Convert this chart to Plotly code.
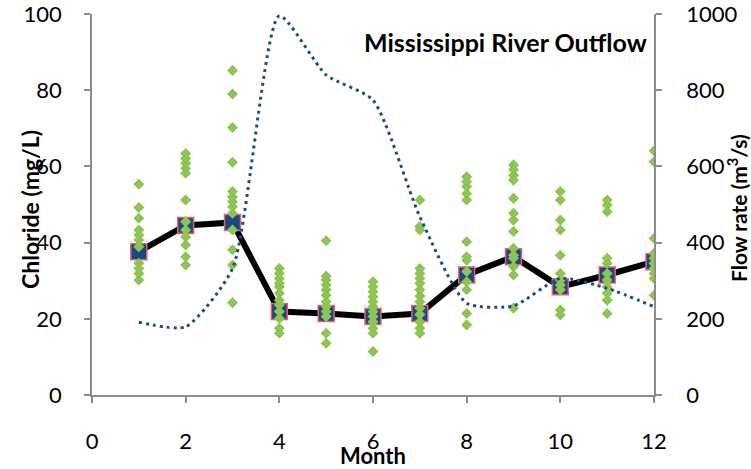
import plotly.graph_objects as go

months = list(range(1, 13))

chloride_samples = {
    1: [55.3, 49.2, 46.4, 43.3, 42.0, 40.7, 38.9, 34.6, 33.2, 31.9, 30.2],
    2: [63.4, 62.1, 60.8, 59.5, 58.2, 51.2, 45.5, 43.3, 41.5, 39.4, 36.3, 34.1],
    3: [85.2, 79.0, 70.2, 61.1, 53.4, 52.0, 50.7, 49.4, 47.7, 43.3, 38.1, 34.1, 24.2],
    4: [33.2, 31.9, 30.6, 29.3, 28.4, 26.7, 24.9, 23.6, 21.9, 20.1, 17.5, 16.2],
    5: [40.5, 31.2, 30.2, 28.9, 27.6, 26.2, 24.5, 23.2, 21.9, 20.6, 16.2, 13.6],
    6: [29.7, 28.4, 27.1, 25.8, 24.5, 23.2, 21.9, 20.6, 19.2, 17.5, 16.2, 11.4],
    7: [51.2, 44.2, 43.3, 33.2, 31.9, 30.6, 29.3, 27.6, 26.0, 24.5, 22.8, 21.1, 19.2, 17.5, 16.2],
    8: [57.3, 56.0, 54.7, 52.9, 51.2, 40.2, 36.3, 35.4, 32.4, 29.7, 27.6, 21.4, 18.4],
    9: [60.4, 59.1, 57.7, 56.4, 51.6, 47.7, 45.9, 42.9, 38.5, 36.7, 35.9, 33.7, 31.5, 22.8],
    10: [53.4, 51.2, 45.9, 43.3, 36.7, 31.9, 30.2, 28.9, 27.6, 22.3, 21.0],
    11: [51.2, 49.9, 48.1, 35.9, 34.6, 31.9, 30.2, 28.4, 26.7, 24.9, 21.4],
    12: [64.1, 61.2, 41.1, 37.2, 35.9, 34.6, 33.2, 31.9, 30.6, 26.2],
}

chloride_mean = [37.6, 44.5, 45.3, 21.9, 21.4, 20.6, 21.4, 31.5, 36.3, 28.4, 31.5, 35.0]
flow_rate = [191, 179, 332, 995, 840, 774, 468, 241, 234, 306, 280, 232]

x_ticks = [0, 2, 4, 6, 8, 10, 12]
y_ticks = [0, 20, 40, 60, 80, 100]
y2_ticks = [0, 200, 400, 600, 800, 1000]

sample_x = [m for m in months for _ in chloride_samples[m]]
sample_y = [v for m in months for v in chloride_samples[m]]

FONT = "Lato"
AXIS_COLOR = "#8c8c8c"

W, H = 751, 469
L, R, T, B = 92, 97, 14, 74
PW, PH = W - L - R, H - T - B


def px(xp):
    return (xp - L) / PW


def py(yp):
    return (H - B - yp) / PH


fig = go.Figure()

fig.add_trace(go.Scatter(
    x=months, y=chloride_mean, mode="lines+markers",
    line=dict(color="black", width=6),
    marker=dict(symbol="square", size=16, color="#174b80",
                line=dict(color="#e8606e", width=1.5)),
    showlegend=False, hoverinfo="skip",
))

fig.add_trace(go.Scatter(
    x=sample_x, y=sample_y, mode="markers",
    marker=dict(symbol="diamond", size=8.5, color="#8fc454"),
    showlegend=False,
))

fig.add_trace(go.Scatter(
    x=months, y=flow_rate, mode="lines", yaxis="y2",
    line=dict(color="#1a4f86", width=3, dash="3px,4px", shape="spline", smoothing=0.6),
    showlegend=False,
))

axis_common = dict(
    showline=True, linecolor=AXIS_COLOR, linewidth=1.5,
    ticks="outside", ticklen=6, tickcolor=AXIS_COLOR, tickwidth=1.5,
    showgrid=False, zeroline=False, automargin=False, ticklabeloverflow="allow",
    tickfont=dict(family=FONT, size=22, color="black"),
)

fig.update_layout(
    width=W, height=H,
    margin=dict(l=L, r=R, t=T, b=B),
    paper_bgcolor="white", plot_bgcolor="white",
    font=dict(family=FONT, color="black"),
    xaxis=dict(range=[0, 12], tickvals=x_ticks, ticklabelstandoff=20, **axis_common),
    yaxis=dict(range=[0, 100], tickvals=y_ticks, ticklabelstandoff=18, **axis_common),
    yaxis2=dict(range=[0, 1000], tickvals=y2_ticks, overlaying="y", side="right",
                ticklabelstandoff=20, **axis_common),
    annotations=[
        dict(text="<b>Mississippi River Outflow</b>", x=px(649), y=py(42),
             xref="paper", yref="paper", xanchor="right", yanchor="middle",
             showarrow=False, font=dict(family=FONT, size=25, color="black")),
        dict(text="<b>Month</b>", x=px(373), y=py(455), xref="paper", yref="paper",
             xanchor="center", yanchor="middle",
             showarrow=False, font=dict(family=FONT, size=22, color="black")),
        dict(text="<b>Chloride (mg/L)</b>", x=px(30), y=py(210), xref="paper", yref="paper",
             textangle=-90, xanchor="center", yanchor="middle",
             showarrow=False, font=dict(family=FONT, size=23, color="black")),
        dict(text="<b>Flow rate (m<sup>3</sup>/s)</b>", x=px(737), y=py(208), xref="paper", yref="paper",
             textangle=-90, xanchor="center", yanchor="middle",
             showarrow=False, font=dict(family=FONT, size=21, color="black")),
    ],
)

fig.write_html("out.html", config={"displayModeBar": False},
               post_script="document.body.style.margin='0';")
